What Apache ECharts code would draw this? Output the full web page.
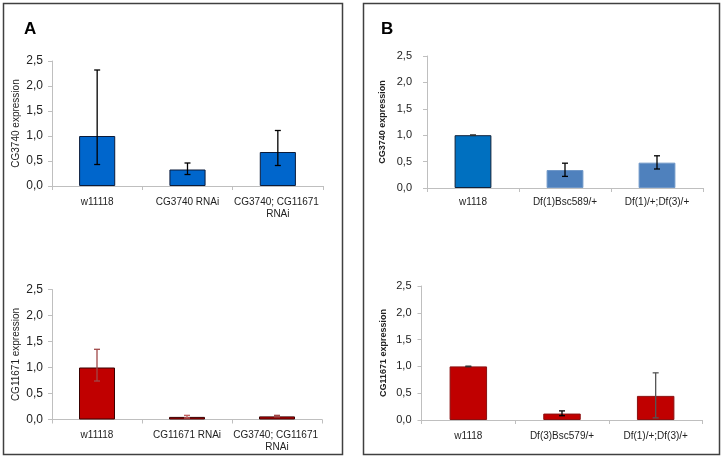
<!DOCTYPE html>
<html>
<head>
<meta charset="utf-8">
<script src="https://cdn.jsdelivr.net/npm/echarts@6/dist/echarts.min.js"></script>
<style>html,body{margin:0;padding:0;background:#fff}#c{width:724px;height:459px}</style>
</head>
<body>
<div id="c"></div>
<script>
// ---- Data ----
const catsA1 = ['w11118', 'CG3740 RNAi', 'CG3740; CG11671 RNAi'];
const valsA1 = [1.0, 0.33, 0.68];
const loA1 = [0.43, 0.23, 0.41];
const hiA1 = [2.32, 0.46, 1.11];

const catsA2 = ['w11118', 'CG11671 RNAi', 'CG3740; CG11671 RNAi'];
const valsA2 = [1.0, 0.05, 0.06];
const loA2 = [0.74, 0.03, 0.05];
const hiA2 = [1.35, 0.08, 0.08];

const catsB1 = ['w1118', 'Df(1)Bsc589/+', 'Df(1)/+;Df(3)/+'];
const valsB1 = [1.0, 0.34, 0.48];
const loB1 = [0.995, 0.22, 0.36];
const hiB1 = [1.005, 0.47, 0.61];

const catsB2 = ['w1118', 'Df(3)Bsc579/+', 'Df(1)/+;Df(3)/+'];
const valsB2 = [1.0, 0.12, 0.45];
const loB2 = [0.995, 0.08, 0.04];
const hiB2 = [1.005, 0.17, 0.88];

const yTicks = [0, 0.5, 1.0, 1.5, 2.0, 2.5];

// ---- Styles ----
const barFillA1 = ['#0066CC', '#0066CC', '#0066CC'];
const barEdgeA1 = ['#0B1B3A', '#0B1B3A', '#0B1B3A'];
const barFillB1 = ['#0070C0', '#4F81BD', '#4F81BD'];
const barEdgeB1 = ['#10223A', '#6F97C8', '#6F97C8'];
const barFillA2 = ['#C00000', '#C00000', '#C00000'];
const barEdgeA2 = ['#3A0000', '#3A0000', '#3A0000'];
const barFillB2 = ['#C00000', '#C00000', '#C00000'];
const barEdgeB2 = ['#8A1010', '#8A1010', '#8A1010'];
const errColA1 = ['#000', '#000', '#000'];
const errColA2 = ['#A04848', '#C06060', '#A04848'];
const errColB1 = ['#333', '#000', '#000'];
const errColB2 = ['#333', '#000', '#555'];

const chart = echarts.init(document.getElementById('c'));
const fmt = v => v.toFixed(1).replace('.', ',');
const font = 'Liberation Sans, Arial, sans-serif';

const grids = [
  {left: 52, top: 61, width: 271, height: 125},
  {left: 52, top: 289.5, width: 270, height: 130},
  {left: 427, top: 56, width: 276, height: 132},
  {left: 421.5, top: 286, width: 281, height: 134}
];
const panels = [
  {cats: catsA1, vals: valsA1, lo: loA1, hi: hiA1, fill: barFillA1, edge: barEdgeA1, err: errColA1, name: 'CG3740 expression', bold: false, nameGap: 31, labMargin: 9, catMargin: 10, tickFont: 12},
  {cats: catsA2, vals: valsA2, lo: loA2, hi: hiA2, fill: barFillA2, edge: barEdgeA2, err: errColA2, name: 'CG11671 expression', bold: false, nameGap: 31, labMargin: 9, catMargin: 10, tickFont: 12},
  {cats: catsB1, vals: valsB1, lo: loB1, hi: hiB1, fill: barFillB1, edge: barEdgeB1, err: errColB1, name: 'CG3740 expression', bold: true, nameGap: 40, labMargin: 15, catMargin: 8, tickFont: 11},
  {cats: catsB2, vals: valsB2, lo: loB2, hi: hiB2, fill: barFillB2, edge: barEdgeB2, err: errColB2, name: 'CG11671 expression', bold: true, nameGap: 33, labMargin: 10, catMargin: 10, tickFont: 11}
];

const xAxis = [], yAxis = [], series = [];
panels.forEach((p, i) => {
  xAxis.push({
    type: 'category', gridIndex: i, data: p.cats,
    axisLine: {lineStyle: {color: '#BFBFBF', width: 1}},
    axisTick: {show: true, length: 4, lineStyle: {color: '#BFBFBF'}},
    axisLabel: {color: '#222', fontSize: 10, fontFamily: font, margin: p.catMargin, lineHeight: 12, width: 100, overflow: 'break', interval: 0}
  });
  yAxis.push({
    type: 'value', gridIndex: i, min: yTicks[0], max: yTicks[yTicks.length - 1], interval: yTicks[1] - yTicks[0],
    name: p.name, nameLocation: 'middle', nameGap: p.nameGap, nameRotate: 90,
    nameTextStyle: {color: '#222', fontSize: p.bold ? 9 : 10, fontWeight: p.bold ? 'bold' : 'normal', fontFamily: font},
    axisLine: {show: true, lineStyle: {color: '#BFBFBF', width: 1}},
    axisTick: {show: true, length: 4, lineStyle: {color: '#BFBFBF'}},
    splitLine: {show: false},
    axisLabel: {color: '#222', fontSize: p.tickFont, fontFamily: font, margin: p.labMargin, formatter: fmt}
  });
  series.push({
    type: 'bar', xAxisIndex: i, yAxisIndex: i, barWidth: '40%',
    data: p.vals.map((v, k) => ({value: v, itemStyle: {color: p.fill[k], borderColor: p.edge[k], borderWidth: 1}})),
    z: 2
  });
  series.push({
    type: 'custom', xAxisIndex: i, yAxisIndex: i, z: 5,
    data: p.lo.map((l, k) => [k, l, p.hi[k]]),
    encode: {x: 0, y: [1, 2]},
    renderItem: (params, api) => {
      const k = api.value(0);
      const a = api.coord([k, api.value(1)]);
      const b = api.coord([k, api.value(2)]);
      const hw = 3;
      const col = p.err[params.dataIndex];
      const st = {stroke: col, lineWidth: 1.3};
      return {type: 'group', children: [
        {type: 'line', shape: {x1: a[0], y1: a[1], x2: b[0], y2: b[1]}, style: st},
        {type: 'line', shape: {x1: a[0] - hw, y1: a[1], x2: a[0] + hw, y2: a[1]}, style: st},
        {type: 'line', shape: {x1: b[0] - hw, y1: b[1], x2: b[0] + hw, y2: b[1]}, style: st}
      ]};
    }
  });
});

chart.setOption({
  animation: false,
  grid: grids,
  xAxis, yAxis, series,
  title: [
    {text: 'A', left: 19, top: 16, textStyle: {fontSize: 17, fontWeight: 'bold', color: '#000', fontFamily: font}},
    {text: 'B', left: 376, top: 16, textStyle: {fontSize: 17, fontWeight: 'bold', color: '#000', fontFamily: font}}
  ],
  graphic: [
    {type: 'rect', shape: {x: 3.5, y: 3.5, width: 339, height: 451}, style: {fill: 'none', stroke: '#404040', lineWidth: 1.5}},
    {type: 'rect', shape: {x: 363.5, y: 3.5, width: 356, height: 451}, style: {fill: 'none', stroke: '#404040', lineWidth: 1.5}}
  ]
});
</script>
</body>
</html>
